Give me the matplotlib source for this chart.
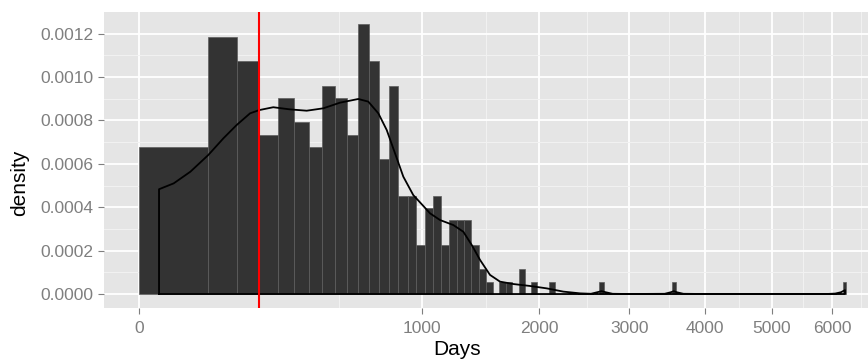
import numpy as np
import matplotlib
matplotlib.use("Agg")
import matplotlib.pyplot as plt
from matplotlib.ticker import FixedLocator, FuncFormatter

plt.rcParams['font.family'] = ['Liberation Sans', 'DejaVu Sans']

# ---- data ----
bin_width = 60
bin_left = [0, 60, 120, 180, 240, 300, 360, 420, 480, 540, 600, 660, 720, 780,
            840, 900, 960, 1020, 1080, 1140, 1200, 1260, 1320, 1380, 1440, 1500,
            1620, 1680, 1800, 1920, 2100, 2640, 3540, 6180]
bin_counts = [12, 21, 19, 13, 16, 14, 12, 17, 16, 13, 22, 19, 11, 17,
              8, 8, 4, 7, 8, 4, 6, 6, 6, 4, 2, 1,
              1, 1, 2, 1, 1, 1, 1, 1]

kde_days = [5, 15, 33, 60, 89, 119, 154, 181, 225, 285, 351, 424, 504, 600, 656,
            715, 766, 818, 872, 939, 1009, 1057, 1131, 1233, 1313, 1382, 1452,
            1538, 1627, 1749, 1909, 2075, 2248, 2428, 2550, 2620, 2670, 2720,
            2800, 3000, 3450, 3530, 3570, 3610, 3700, 4000, 5000, 5900, 6050,
            6150, 6222]
kde_dens = [0.000483, 0.000510, 0.000564, 0.000641, 0.000718, 0.000779, 0.000833,
            0.000848, 0.000861, 0.000851, 0.000845, 0.000856, 0.000882, 0.000899,
            0.000887, 0.000833, 0.000756, 0.000649, 0.000541, 0.000456, 0.000406,
            0.000372, 0.000341, 0.000318, 0.000287, 0.000226, 0.000157, 0.000088,
            0.000057, 0.000046, 0.000037, 0.000026, 0.000011, 0.000003, 0.000001,
            0.000008, 0.000013, 0.000008, 0.000001, 0.0, 0.000001, 0.000008,
            0.000013, 0.000008, 0.000001, 0.0, 0.0, 0.0, 0.000002, 0.000008,
            0.000018]

vline_day = 180

x_major = [0, 1000, 2000, 3000, 4000, 5000, 6000]
x_minor = [500, 1500, 2500, 3500, 4500, 5500, 6500]
y_major = [0.0, 0.0002, 0.0004, 0.0006, 0.0008, 0.0010, 0.0012]
y_minor = [0.0001, 0.0003, 0.0005, 0.0007, 0.0009, 0.0011]

# ---- figure ----
W, H = 868, 360
fig = plt.figure(figsize=(W / 100, H / 100), dpi=100)
ax = fig.add_axes([104 / W, 52 / H, 764 / W, 296 / H])


def fwd(x):
    x = np.asarray(x, dtype=float)
    return np.sign(x) * np.sqrt(np.abs(x))


def inv(y):
    y = np.asarray(y, dtype=float)
    return np.sign(y) * y ** 2


ax.set_xscale('function', functions=(fwd, inv))
ax.set_facecolor('#E5E5E5')

edges = np.arange(0, 6240 + bin_width, bin_width)
ax.hist(bin_left, bins=edges, weights=bin_counts, density=True,
        color='#333333', edgecolor='#5e5e5e', linewidth=0.5, zorder=2)

# density outline (closed along the baseline like ggplot's geom_density)
px = [kde_days[0]] + kde_days + [kde_days[-1], kde_days[0]]
py = [0.0] + kde_dens + [0.0, 0.0]
ax.plot(px, py, color='black', lw=1.3, zorder=3, solid_joinstyle='round')

ax.axvline(vline_day, color='#FF0000', lw=1.5, zorder=4)

ax.set_xlim(-15.3, 6634)
ax.set_ylim(-6.45e-5, 1.30e-3)

ax.xaxis.set_major_locator(FixedLocator(x_major))
ax.xaxis.set_minor_locator(FixedLocator(x_minor))
ax.yaxis.set_major_locator(FixedLocator(y_major))
ax.yaxis.set_minor_locator(FixedLocator(y_minor))
ax.xaxis.set_major_formatter(FuncFormatter(lambda v, p: f"{int(round(v))}"))
ax.yaxis.set_major_formatter(FuncFormatter(lambda v, p: f"{v:.4f}"))

ax.grid(which='major', color='white', lw=1.3, zorder=0)
ax.grid(which='minor', color='#F2F2F2', lw=0.7, zorder=0)
ax.set_axisbelow(True)

for s in ax.spines.values():
    s.set_visible(False)

ax.tick_params(which='major', length=4.3, width=0.8, color='#7F7F7F',
               labelcolor='#7F7F7F', labelsize=12.5, pad=3)
ax.tick_params(axis='x', which='major', pad=5)
ax.tick_params(which='minor', length=0)

ax.set_xlabel('Days', fontsize=15, color='black')
ax.set_ylabel('density', fontsize=15, color='black')
# label positions (axes fraction)
ax.xaxis.set_label_coords((457 - 104) / 764, (308 - 360 + 4) / 296, transform=None)
ax.xaxis.label.set_verticalalignment('bottom')
ax.xaxis.set_label_coords((457 - 104) / 764, -52 / 296 + 0.005)
ax.yaxis.set_label_coords(-(104 - 20) / 764, (308 - 183) / 296)
ax.yaxis.label.set_verticalalignment('center')

fig.savefig('out.png', dpi=100)
